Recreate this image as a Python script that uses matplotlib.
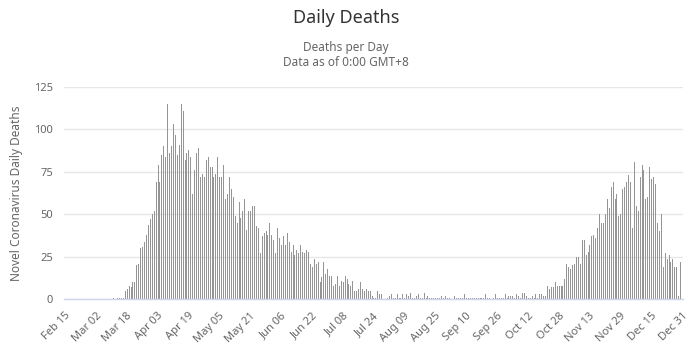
import datetime as dt
import numpy as np
import matplotlib
matplotlib.use("Agg")
import matplotlib.pyplot as plt

# daily values, Feb 15 -> Dec 31
start = dt.date(2020, 2, 15)
n_days = 321
dates = [start + dt.timedelta(days=i) for i in range(n_days)]

lead_zeros = [0] * 25
wave1_rise = [1, 0, 1, 1, 1, 1, 5, 6, 8, 7, 10, 10, 20, 21, 30, 31, 34, 38, 44, 47, 50, 52]
wave1_peak = [69, 79, 69, 85, 90, 84, 115, 86, 90, 103, 97, 85, 91, 115, 111, 82, 86, 88, 84, 62,
              76, 86, 89, 72, 74, 72, 82, 84, 78, 78, 72, 74, 84, 72, 72, 79, 59, 62, 72]
wave1_fall = [65, 60, 49, 45, 57, 48, 52, 59, 41, 52, 52, 55, 55, 43, 42, 27, 37, 39, 40, 38,
              45, 38, 35, 27, 42, 36, 32, 37, 32, 39, 34, 28, 32, 26, 29, 27, 32, 28, 27]
wave1_tail = [29, 28, 21, 19, 24, 21, 22, 10, 13, 22, 15, 18, 14, 14, 8, 9, 14, 8, 11, 10,
              14, 12, 9, 8, 11, 5, 5, 6, 10, 6, 5, 6, 5, 5, 2, 1, 1, 5, 3]
summer = [3, 0, 0, 1, 2, 3, 1, 1, 3, 1, 1, 3, 1, 3, 2, 4, 1, 1, 2, 3,
          1, 1, 4, 1, 2, 1, 1, 1, 1, 1, 1, 2, 1, 2, 1, 1, 0, 0, 2, 1,
          1, 1, 1, 3, 1, 1, 1, 1, 1]
autumn = [1, 1, 1, 1, 1, 3, 1, 1, 0, 1, 3, 1, 1, 1, 1, 3, 1, 2, 2, 2,
          1, 3, 2, 1, 4, 4, 2, 1, 1, 2, 1, 3, 1, 3, 3, 2, 2, 8, 6, 7,
          7, 10, 8, 8]
wave2_rise = [8, 8, 12, 21, 19, 18, 20, 21, 25, 25, 21, 35, 35, 26, 28, 32, 37, 38, 36, 42,
              50, 45, 45, 50, 59, 54, 66, 69, 59, 62, 49, 50, 65, 66]
wave2_peak = [69, 73, 69, 42, 81, 55, 52, 72, 79, 76, 59, 60, 78, 71, 72, 68, 45, 40, 50, 19,
              27, 24, 26, 22, 24, 19, 19, 2, 22, 0]

deaths = np.array(lead_zeros + wave1_rise + wave1_peak + wave1_fall + wave1_tail
                  + summer + autumn + wave2_rise + wave2_peak)

tick_idx = list(range(0, n_days, 16))
tick_labels = [dates[i].strftime("%b %d") for i in tick_idx]

plt.rcParams['font.family'] = ['Noto Sans', 'DejaVu Sans']

fig = plt.figure(figsize=(6.92, 3.62), dpi=100)
ax = fig.add_axes([64 / 692, 62.7 / 362, 619 / 692, 212.3 / 362])

x = np.arange(len(deaths))
# thin 1px columns, like the original
ax.vlines(x, 0, deaths, colors='#959595', linewidth=0.72, antialiased=False, zorder=2)

ax.set_xlim(-0.5, n_days - 0.5)
ax.set_ylim(0, 125)
ax.set_yticks([0, 25, 50, 75, 100, 125])
ax.grid(axis='y', color='#e6e6e6', linewidth=1, zorder=0)
ax.set_axisbelow(True)

for side in ['top', 'right', 'left']:
    ax.spines[side].set_visible(False)
ax.spines['bottom'].set_color('#ccd6eb')
ax.spines['bottom'].set_linewidth(1)
ax.spines['bottom'].set_zorder(3)

ax.set_xticks(tick_idx)
ax.set_xticklabels(tick_labels, rotation=45, ha='right', rotation_mode='anchor')
ax.tick_params(axis='x', length=0, pad=8, labelsize=8, labelcolor='#666666')
ax.tick_params(axis='y', length=0, pad=8, labelsize=8, labelcolor='#666666')

ax.set_ylabel("Novel Coronavirus Daily Deaths", color='#666666', fontsize=8.5, labelpad=8)

fig.text(0.5, 1 - 18 / 362, "Daily Deaths", ha='center', va='center', fontsize=13, color='#333333')
fig.text(0.5, 1 - 47 / 362, "Deaths per Day", ha='center', va='center', fontsize=8.5, color='#666666')
fig.text(0.5, 1 - 63 / 362, "Data as of 0:00 GMT+8", ha='center', va='center', fontsize=8.5, color='#666666')

fig.savefig("out.png", dpi=100)
